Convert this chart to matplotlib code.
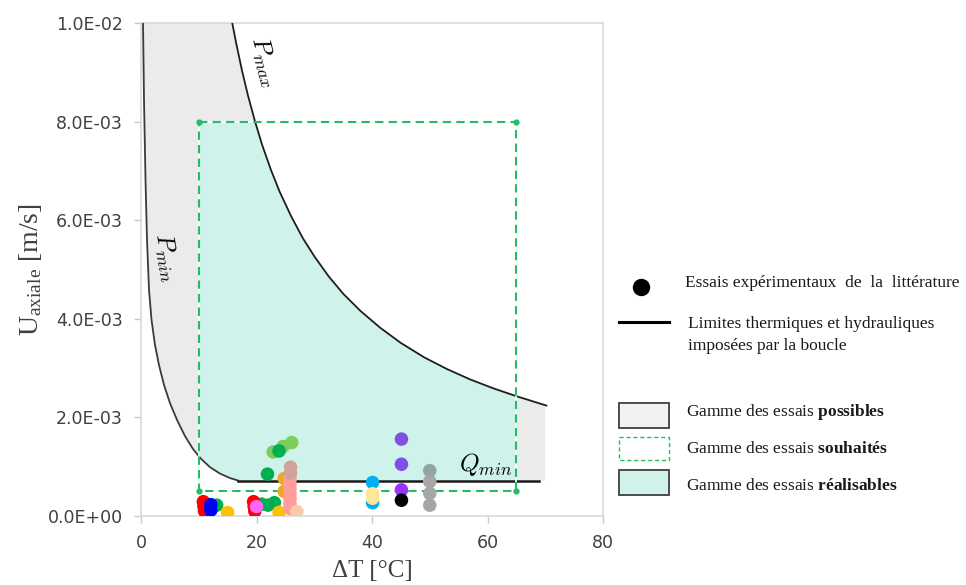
import numpy as np
import matplotlib
matplotlib.use('Agg')
import matplotlib.pyplot as plt
from matplotlib.patches import Rectangle, Polygon
from matplotlib.ticker import FuncFormatter

plt.rcParams['mathtext.fontset'] = 'custom'
plt.rcParams['mathtext.rm'] = 'Liberation Serif'
plt.rcParams['mathtext.it'] = 'Liberation Serif:italic'
plt.rcParams['mathtext.bf'] = 'Liberation Serif:bold'

'''
Limites de la boucle (lues sur la figure)
'''
pmin_x = [0.35, 0.52, 0.78, 1.04, 1.39, 1.82, 2.42, 3.12, 3.98, 5.02, 6.23, 7.62, 9.00, 10.39,
          11.95, 13.68, 15.41, 16.8]
pmin_y = [0.0100, 0.00844, 0.00682, 0.00560, 0.00458, 0.00398, 0.00347, 0.00306, 0.00266, 0.00229,
          0.00195, 0.00162, 0.00136, 0.00116, 0.00099, 0.00086, 0.00077, 0.00072]

pmax_x = [15.8, 16.5, 17.5, 18.5, 19.75, 21.0, 22.5, 24.0, 26.0, 28.0, 30.0, 32.5, 35.0, 38.0,
          41.4, 45.0, 49.0, 53.0, 57.0, 61.0, 65.0, 70.2]
pmax_y = [0.0100, 0.00958, 0.00903, 0.00854, 0.0080, 0.00752, 0.00702, 0.00658, 0.00608, 0.00564,
          0.00527, 0.00486, 0.00451, 0.00416, 0.00382, 0.00351, 0.00322, 0.00298, 0.00277, 0.00259,
          0.00243, 0.00224]

qmin = 0.00072
qmin_x = [16.8, 69.0]
gray_end = 70.0

# gamme souhaitee
dT_souhait = [10, 65]
U_souhait = [0.0005, 0.008]

'''
Essais experimentaux de la litterature
'''
essais_dT = [13.1, 10.8, 10.9, 11.0, 12.1, 12.1, 15.0,
             20.9, 22.0, 23.1, 19.5, 19.6, 19.7, 20.0, 23.9,
             22.9, 24.6, 26.1, 23.9, 21.9,
             24.8, 24.8,
             25.8, 25.8, 25.8, 25.8, 25.8, 25.8, 25.8, 25.9, 25.9, 27.0,
             40.1, 40.1, 40.1, 40.1,
             45.1, 45.1, 45.1, 45.1,
             50.0, 50.0, 50.0, 50.0]
essais_U = [0.00022, 0.00029, 0.00019, 0.00010, 0.00023, 0.00012, 0.00007,
            0.00024, 0.00022, 0.00027, 0.00029, 0.00019, 0.00010, 0.00019, 0.000075,
            0.00130, 0.00141, 0.00149, 0.00132, 0.00085,
            0.00076, 0.00050,
            0.00015, 0.00025, 0.00035, 0.00045, 0.00055, 0.00065, 0.00075, 0.00087, 0.00099, 0.00009,
            0.00068, 0.00027, 0.00045, 0.00036,
            0.00156, 0.00105, 0.00053, 0.00032,
            0.00092, 0.00070, 0.00046, 0.00022]
essais_couleur = ['#00b050', '#ff0000', '#ff0000', '#ff0000', '#0000ff', '#0000ff', '#ffc000',
                  '#00b050', '#00b050', '#00b050', '#ff0000', '#ff0000', '#ff0000', '#ff66ff', '#ffc000',
                  '#7dcc5c', '#7dcc5c', '#7dcc5c', '#00b050', '#00b050',
                  '#f0a820', '#f0a820',
                  '#ff9c9c', '#ff9c9c', '#ff9c9c', '#ff9c9c', '#ff9c9c', '#ff9c9c', '#ff9c9c', '#cfa29c', '#cfa29c', '#f8cbad',
                  '#00b0f0', '#00b0f0', '#ffe699', '#ffe699',
                  '#8050e6', '#8050e6', '#9b30ff', '#000000',
                  '#8fa89f', '#a6a6a6', '#a6a6a6', '#a6a6a6']

vert = '#22bd64'
gris = '#ebebeb'
turquoise = '#cff3ea'

fig = plt.figure(figsize=(9.66, 5.85), dpi=100)
ax = fig.add_axes([141 / 966, 1 - 516 / 585, 462 / 966, 493 / 585])

# zone possible (grise) et realisable (turquoise)
poly_x = pmin_x + [gray_end, gray_end] + pmax_x[::-1]
poly_y = pmin_y + [qmin, pmax_y[-1]] + pmax_y[::-1]
ax.add_patch(Polygon(np.column_stack([poly_x, poly_y]), closed=True, facecolor=gris, edgecolor='none', zorder=1))
teal = Polygon(np.column_stack([poly_x, poly_y]), closed=True, facecolor=turquoise, edgecolor='none', zorder=1.5)
ax.add_patch(teal)
teal.set_clip_path(Rectangle((dT_souhait[0], U_souhait[0]), dT_souhait[1] - dT_souhait[0],
                             U_souhait[1] - U_souhait[0], transform=ax.transData))

ax.plot(pmin_x, pmin_y, color='#3a3a3a', lw=1.3, zorder=3)
ax.plot(pmax_x, pmax_y, color='#1e1e1e', lw=1.3, zorder=3)
ax.plot(qmin_x, [qmin, qmin], color='#1a1a1a', lw=1.8, zorder=3)

# gamme souhaitee
rx = [dT_souhait[0], dT_souhait[1], dT_souhait[1], dT_souhait[0], dT_souhait[0]]
ry = [U_souhait[1], U_souhait[1], U_souhait[0], U_souhait[0], U_souhait[1]]
ax.plot(rx, ry, color='white', lw=1.2, zorder=3.5)
l, = ax.plot(rx, ry, color=vert, lw=1.5, zorder=4)
l.set_dashes((4, 2.5))
ax.plot([dT_souhait[0], dT_souhait[1], dT_souhait[0], dT_souhait[1]],
        [U_souhait[1], U_souhait[1], U_souhait[0], U_souhait[0]],
        'o', ms=4.5, color=vert, mec='none', zorder=4)

ax.scatter(essais_dT, essais_U, c=essais_couleur, s=95, linewidths=0, zorder=5)

ax.text(21.2, 0.00922, r'$P_{max}$', math_fontfamily='cm', fontsize=18, rotation=-75,
        ha='center', va='center', zorder=6)
ax.text(4.3, 0.00525, r'$P_{min}$', math_fontfamily='cm', fontsize=18, rotation=-80,
        ha='center', va='center', zorder=6)
ax.text(59.6, 0.00104, r'$Q_{min}$', math_fontfamily='cm', fontsize=18,
        ha='center', va='center', zorder=6)

ax.set_xlim(0, 80)
ax.set_ylim(0, 0.01)
ax.set_xticks([0, 20, 40, 60, 80])
ax.set_yticks([0, 0.002, 0.004, 0.006, 0.008, 0.01])
ax.yaxis.set_major_formatter(FuncFormatter(lambda v, p: '%.1E' % v))
ax.tick_params(colors='#c8c8c8', labelcolor='#404040', labelsize=12.5, length=5, width=1, pad=8)
for s in ax.spines.values():
    s.set_color('#d9d9d9')
    s.set_linewidth(1.2)

ax.set_xlabel('ΔT [°C]', family='Liberation Serif', fontsize=18, color='#404040', labelpad=6)
ax.set_ylabel(r'U$_{\mathrm{axiale}}$ [m/s]', family='Liberation Serif', math_fontfamily='custom',
              fontsize=20, color='#404040', labelpad=3)

'''
Legende (en pixels de la figure)
'''
lg = fig.add_axes([0, 0, 1, 1])
lg.set_xlim(0, 966)
lg.set_ylim(585, 0)
lg.axis('off')

lg.plot([641], [287], 'o', ms=11.5, color='black')
lg.plot([619, 669], [322, 322], color='black', lw=2.2)
lg.add_patch(Rectangle((619, 403), 50, 25, facecolor='#f2f2f2', edgecolor='#404040', lw=1.3))
b = Rectangle((619, 437), 50, 23, facecolor='none', edgecolor=vert, lw=1.0)
b.set_linestyle((0, (3, 2)))
lg.add_patch(b)
lg.add_patch(Rectangle((619, 470), 50, 25, facecolor=turquoise, edgecolor='#404040', lw=1.3))

tk = dict(family='Liberation Serif', fontsize=12.5, color='#1a1a1a', va='center', ha='left',
          math_fontfamily='custom')
lg.text(685, 283, 'Essais expérimentaux  de  la  littérature', **tk)
lg.text(688, 324, 'Limites thermiques et hydrauliques', **tk)
lg.text(688, 346, 'imposées par la boucle', **tk)
lg.text(686, 412, r'Gamme des essais $\mathbf{possibles}$', **tk)
lg.text(686, 449, r'Gamme des essais $\mathbf{souhaités}$', **tk)
lg.text(686, 486, r'Gamme des essais $\mathbf{réalisables}$', **tk)

fig.savefig('out.png', dpi=100)
